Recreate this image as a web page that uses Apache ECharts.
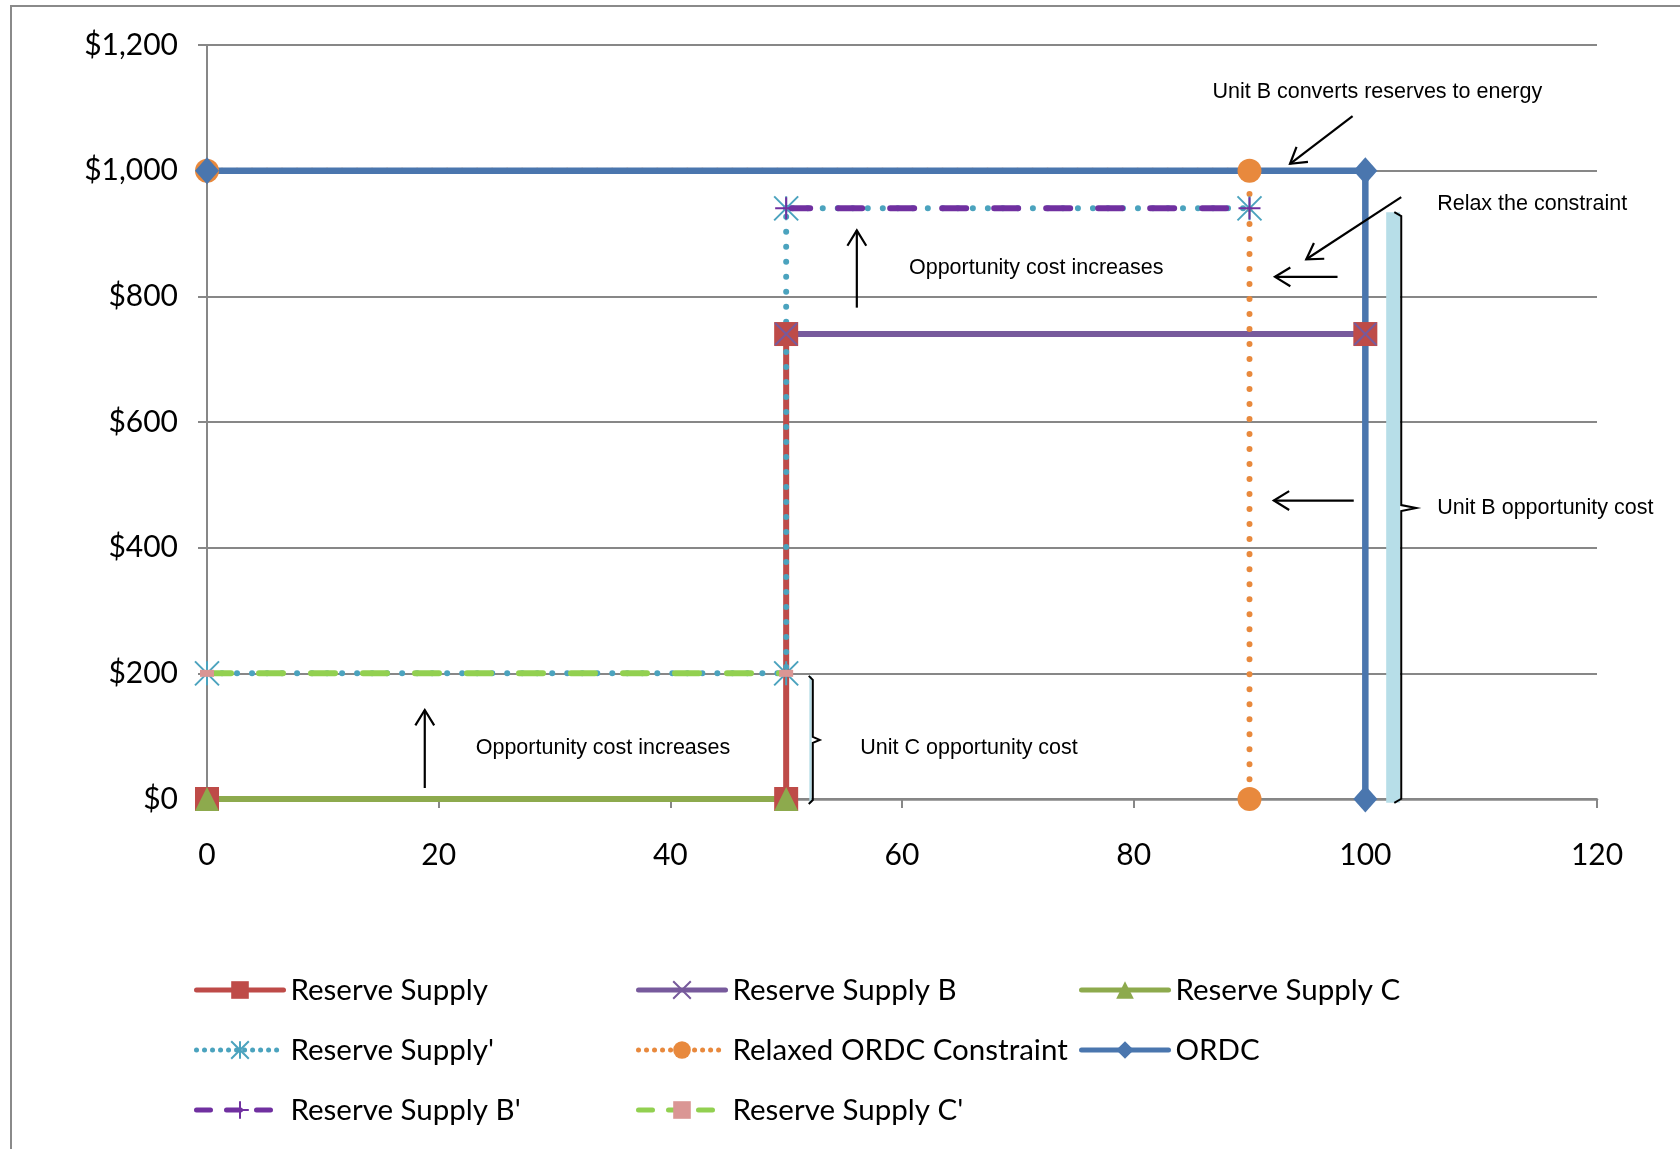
<!DOCTYPE html>
<html><head><meta charset="utf-8">
<script src="https://cdn.jsdelivr.net/npm/echarts@6/dist/echarts.min.js"></script>
<style>html,body{margin:0;padding:0;background:#fff}#c{width:1680px;height:1149px}</style>
</head><body><div id="c"></div>
<script>
// ---- data ----
const yTickLabels = {0:'$0',200:'$200',400:'$400',600:'$600',800:'$800',1000:'$1,000',1200:'$1,200'};
const seriesNames = ['Reserve Supply','Reserve Supply B','Reserve Supply C',"Reserve Supply'",'Relaxed ORDC Constraint','ORDC',"Reserve Supply B'","Reserve Supply C'"];
const reserveSupply = [[0,0],[50,0],[50,740],[100,740]];
const reserveSupplyB = [[50,740],[100,740]];
const reserveSupplyC = [[0,0],[50,0]];
const reserveSupplyPrime = [[0,200],[50,200],[50,940],[90,940]];
const relaxedORDC = [[0,1000],[90,1000],[90,0]];
const ordc = [[0,1000],[100,1000],[100,0]];
const reserveSupplyBPrime = [[50,940],[90,940]];
const reserveSupplyCPrime = [[0,200],[50,200]];

// ---- annotations (data coordinates) ----
const annoTexts = [
  {text:'Unit B converts reserves to energy', at:[86.8,1125]},
  {text:'Relax the constraint', at:[106.2,947]},
  {text:'Opportunity cost increases', at:[60.6,845]},
  {text:'Unit B opportunity cost', at:[106.2,463]},
  {text:'Opportunity cost increases', at:[23.2,81]},
  {text:'Unit C opportunity cost', at:[56.4,81]}
];
const annoArrows = [
  {from:[18.8,17.5], to:[18.8,141.6]},
  {from:[56.1,782], to:[56.1,905]},
  {from:[98.9,1087], to:[93.5,1011]},
  {from:[103.1,958], to:[94.9,859]},
  {from:[97.6,831], to:[92.2,831]},
  {from:[99.0,475], to:[92.1,475]}
];
const oppBands = [
  {x:[101.8,103.0], y:[-6,934]},
  {x:[52.0,52.2], y:[-6,196]}
];
const braces = [
  {x:103.1, top:934, bottom:-6, mid:463, hook:0.6, tip:1.3},
  {x:52.3, top:196, bottom:-8, mid:94, hook:0.35, tip:0.6}
];

const C = {
  red:'#BE4B48', purple:'#775A9C', green:'#8DAA4D', teal:'#4BA3BE',
  orange:'#E8893D', blue:'#4A76AE', purple2:'#7030A0', green2:'#92D050', pink:'#DA9694',
  axis:'#878787'
};
const FONT = 'Lato, "Open Sans", sans-serif';
const ANNO_FONT = '"Liberation Sans", Arial, sans-serif';

const asterisk = 'path://M0 0L20 20M20 0L0 20M10 0L10 20';
const xMark = 'path://M0 0L20 20M20 0L0 20';
const plusMark = 'path://M10 0L10 20M0 10L20 10';

const chart = echarts.init(document.getElementById('c'), null, {renderer:'canvas'});

function lineSeries(name, data, color, width, type, symbol, size, extra) {
  return Object.assign({
    name, type:'line', data, showSymbol:true, symbol, symbolSize:size,
    animation:false, clip:false,
    lineStyle:{color, width, type, cap:'round'},
    itemStyle:{color},
    emphasis:{disabled:true}
  }, extra || {});
}

const dotted = [0.01, 15];
const longDash = [24, 28];
const legDotted = [0.01, 8];
const legDash = [14, 16];

function legItem(name, type) {
  return {name, lineStyle:{width:5, type: type || 'solid', cap:'round'}};
}

const option = {
  animation:false,
  backgroundColor:'#fff',
  grid:{left:207, right:83, top:45, bottom:350, containLabel:false, outerBoundsMode:'none'},
  xAxis:{
    type:'value', min:0, max:120, interval:20,
    axisLine:{show:true, lineStyle:{color:C.axis, width:2.5}},
    axisTick:{show:true, length:9, lineStyle:{color:C.axis, width:2}},
    axisLabel:{fontSize:30, fontFamily:FONT, color:'#000', margin:41},
    splitLine:{show:false}
  },
  yAxis:{
    type:'value', min:0, max:1200, interval:200,
    axisLine:{show:true, lineStyle:{color:C.axis, width:2}},
    axisTick:{show:true, length:9, lineStyle:{color:C.axis, width:2}},
    axisLabel:{fontSize:30, fontFamily:FONT, color:'#000', margin:29,
      formatter:v => yTickLabels[v] !== undefined ? yTickLabels[v] : ''},
    splitLine:{show:true, lineStyle:{color:C.axis, width:2}}
  },
  legend:[
    {data:[legItem(seriesNames[0]),legItem(seriesNames[3],legDotted),legItem(seriesNames[6],legDash)], left:194, top:975},
    {data:[legItem(seriesNames[1]),legItem(seriesNames[4],legDotted),legItem(seriesNames[7],legDash)], left:636, top:975},
    {data:[legItem(seriesNames[2]),legItem(seriesNames[5])], left:1079, top:975}
  ].map(l => Object.assign({
    orient:'vertical', padding:0, itemWidth:87, itemHeight:22, itemGap:30,
    selectedMode:false,
    textStyle:{fontSize:29.5, lineHeight:30, fontFamily:FONT, color:'#000', padding:[0,0,0,2]}
  }, l)),
  series:[
    lineSeries(seriesNames[0], reserveSupply, C.red, 6, 'solid', 'rect', 24),
    lineSeries(seriesNames[1], reserveSupplyB, C.purple, 6, 'solid', xMark, 22,
      {itemStyle:{color:C.purple, borderColor:C.purple, borderWidth:2}}),
    lineSeries(seriesNames[2], reserveSupplyC, C.green, 6, 'solid', 'triangle', 24),
    lineSeries(seriesNames[3], reserveSupplyPrime, C.teal, 6, dotted, asterisk, 24,
      {itemStyle:{color:C.teal, borderColor:C.teal, borderWidth:2}}),
    lineSeries(seriesNames[4], relaxedORDC, C.orange, 6, dotted, 'circle', 24),
    lineSeries(seriesNames[5], ordc, C.blue, 6.5, 'solid', 'diamond', [24,27]),
    lineSeries(seriesNames[6], reserveSupplyBPrime, C.purple2, 6, longDash, plusMark, 22,
      {itemStyle:{color:C.purple2, borderColor:C.purple2, borderWidth:2}}),
    lineSeries(seriesNames[7], reserveSupplyCPrime, C.green2, 6, longDash, 'rect', [14,7],
      {itemStyle:{color:C.pink}})
  ]
};
chart.setOption(option);

function px(p){ return chart.convertToPixel({gridIndex:0}, p); }
function arrowEls(a){
  const p0 = px(a.from), p1 = px(a.to);
  const dx=p1[0]-p0[0], dy=p1[1]-p0[1], L=Math.hypot(dx,dy), ux=dx/L, uy=dy/L;
  const h=18, ang=0.55, c=Math.cos(ang), s=Math.sin(ang);
  const l=[p1[0]-h*(ux*c-uy*s), p1[1]-h*(uy*c+ux*s)];
  const r=[p1[0]-h*(ux*c+uy*s), p1[1]-h*(uy*c-ux*s)];
  return [
    {type:'line', shape:{x1:p0[0],y1:p0[1],x2:p1[0],y2:p1[1]}, style:{stroke:'#000', lineWidth:2.2}, z:100},
    {type:'polyline', shape:{points:[l,p1,r]}, style:{stroke:'#000', lineWidth:2.2, fill:null}, z:100}
  ];
}
const g = [];
g.push({type:'rect', shape:{x:11, y:6, width:1720, height:1200}, style:{fill:null, stroke:'#8a8a8a', lineWidth:2}, z:-10, silent:true});
oppBands.forEach(b => {
  const a = px([b.x[0], b.y[1]]), c = px([b.x[1], b.y[0]]);
  g.push({type:'rect', shape:{x:a[0], y:a[1], width:c[0]-a[0], height:c[1]-a[1]}, style:{fill:'#B7DEE8'}, z:50});
});
braces.forEach(b => {
  const t = px([b.x, b.top]), bt = px([b.x, b.bottom]), m = px([b.x, b.mid]);
  const hk = px([b.x - b.hook, b.top])[0], tp = px([b.x + b.tip, b.mid])[0];
  const x = t[0];
  g.push({type:'polyline', shape:{points:[[hk,t[1]],[x,t[1]+4],[x,m[1]-3],[tp,m[1]],[x,m[1]+3],[x,bt[1]-4],[hk,bt[1]]]},
    style:{stroke:'#000', lineWidth:2, fill:null}, z:100});
});
annoArrows.forEach(a => g.push(...arrowEls(a)));
annoTexts.forEach(t => {
  const p = px(t.at);
  g.push({type:'text', x:p[0], y:p[1], style:{text:t.text, fontSize:21.5, fontFamily:ANNO_FONT, fill:'#000', verticalAlign:'middle', textVerticalAlign:'middle', align:'left'}, z:100});
});
chart.setOption({graphic:g});
</script></body></html>
